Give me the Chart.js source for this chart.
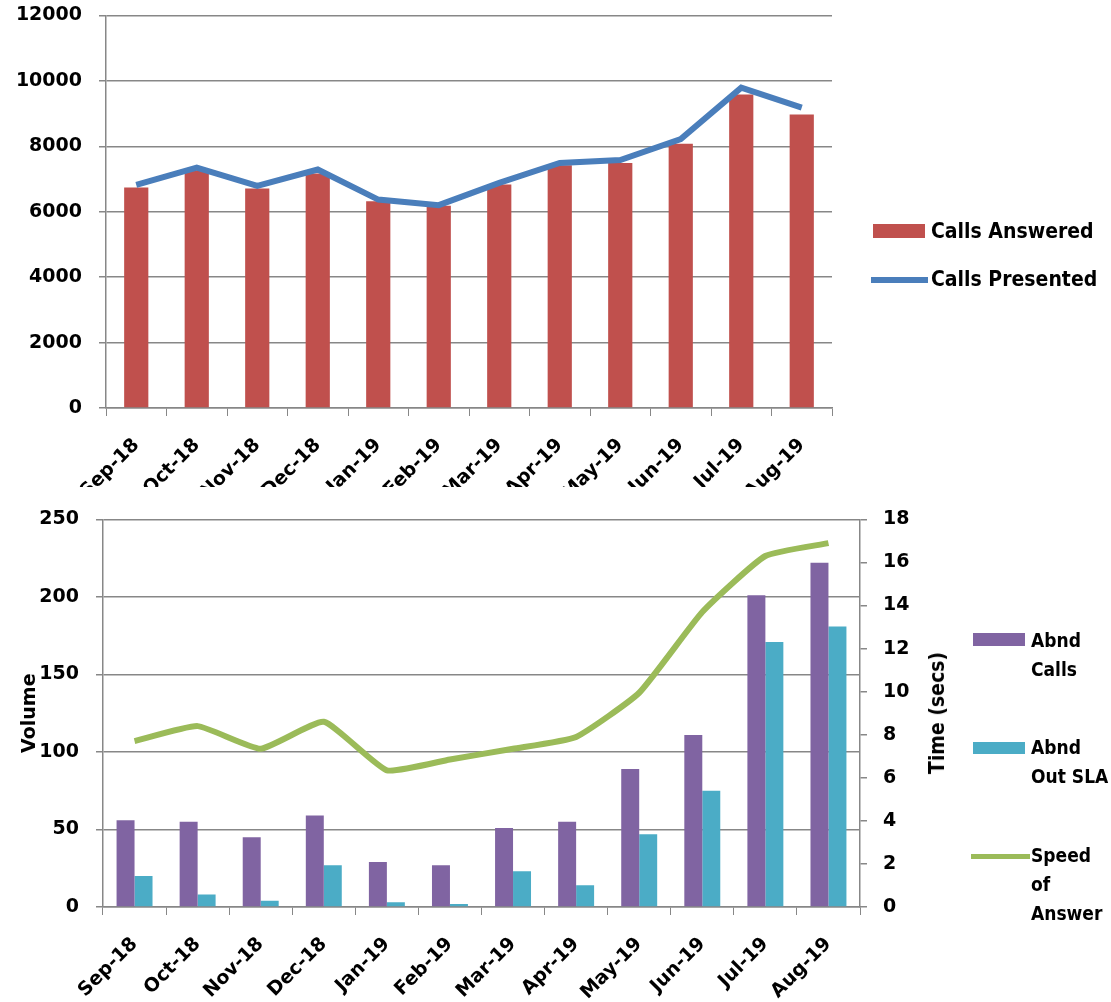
<!DOCTYPE html>
<html>
<head>
<meta charset="utf-8">
<script src="https://cdn.jsdelivr.net/npm/chart.js@4.4.1/dist/chart.umd.min.js"></script>
<style>
  body { margin: 0; background: #fff; width: 1111px; height: 1002px; overflow: hidden; position: relative; }
  #topWrap { position: absolute; left: 0; top: 0; width: 1111px; height: 487px; overflow: hidden; }
  #top { position: absolute; left: 0; top: -13px; }
  #bottom { position: absolute; left: 0; top: 491px; }
  .lg { position: absolute; font: bold 21px 'DejaVu Sans Condensed', 'Liberation Sans', sans-serif; color: #000; line-height: 29px; white-space: nowrap; }
  .sm { font-size: 19px; }
  .sw { position: absolute; }
</style>
</head>
<body>
<div id="topWrap"><canvas id="top" width="1111" height="500"></canvas></div>
<canvas id="bottom" width="1111" height="511"></canvas>

<!-- top legend -->
<div class="sw" style="left:873px;top:224px;width:52px;height:14px;background:#C0504D"></div>
<div class="lg" style="left:931px;top:217px">Calls Answered</div>
<div class="sw" style="left:871px;top:277px;width:57px;height:6px;background:#4A7EBB"></div>
<div class="lg" style="left:931px;top:265px">Calls Presented</div>

<!-- bottom legend -->
<div class="sw" style="left:973px;top:633px;width:52px;height:13px;background:#8064A2"></div>
<div class="lg sm" style="left:1031px;top:626px">Abnd<br>Calls</div>
<div class="sw" style="left:973px;top:742px;width:52px;height:12px;background:#4BACC6"></div>
<div class="lg sm" style="left:1031px;top:733px">Abnd<br>Out SLA</div>
<div class="sw" style="left:971px;top:854px;width:59px;height:5px;background:#9BBB59"></div>
<div class="lg sm" style="left:1031px;top:841px">Speed<br>of<br>Answer</div>

<div class="lg" style="left:937px;top:713px;transform:translate(-50%,-50%) rotate(-90deg);line-height:22px">Time (secs)</div>

<script>
var months = ['Sep-18', 'Oct-18', 'Nov-18', 'Dec-18', 'Jan-19', 'Feb-19', 'Mar-19', 'Apr-19', 'May-19', 'Jun-19', 'Jul-19', 'Aug-19'];

var callsAnswered = [6740, 7270, 6710, 7170, 6320, 6180, 6830, 7420, 7490, 8080, 9580, 8970];
var callsPresented = [6820, 7350, 6790, 7290, 6370, 6200, 6880, 7490, 7580, 8220, 9790, 9180];

var abndCalls = [56, 55, 45, 59, 29, 27, 51, 55, 89, 111, 201, 222];
var abndOutSla = [20, 8, 4, 27, 3, 2, 23, 14, 47, 75, 171, 181];
var speedOfAnswer = [7.7, 8.4, 7.35, 8.6, 6.35, 6.85, 7.35, 7.9, 9.95, 13.7, 16.3, 16.9];

var gridGray = '#878787';
var tickFont = { family: "'DejaVu Sans', sans-serif", size: 19, weight: 'bold' };

Chart.defaults.color = '#000';
Chart.defaults.animation = false;

// plain numbers, no thousands separator
var plain = function(v) { return String(v); };

var xAxis = function(h) {
    return {
        offset: true,
        grid: { drawOnChartArea: false, drawTicks: true, tickLength: 8, color: gridGray, tickColor: gridGray, offset: true },
        border: { color: gridGray, width: 1.5 },
        ticks: { font: tickFont, color: '#000', minRotation: 45, maxRotation: 45, autoSkip: false, padding: 18 },
        afterFit: function(scale) { scale.height = h; }
    };
};

new Chart(document.getElementById('top').getContext('2d'), {
    type: 'bar',
    data: {
        labels: months,
        datasets: [
            {
                type: 'line',
                label: 'Calls Presented',
                data: callsPresented,
                borderColor: '#4A7EBB',
                borderWidth: 6,
                pointRadius: 0,
                tension: 0,
                order: 0
            },
            {
                label: 'Calls Answered',
                data: callsAnswered,
                backgroundColor: '#C0504D',
                barPercentage: 0.4,
                categoryPercentage: 1,
                order: 1
            }
        ]
    },
    options: {
        responsive: false,
        layout: { padding: { left: 0, top: 0, right: 279, bottom: 0 } },
        plugins: { legend: { display: false }, tooltip: { enabled: false } },
        scales: {
            x: xAxis(79),
            y: {
                min: 0, max: 12000,
                ticks: { stepSize: 2000, font: tickFont, color: '#000', padding: 17, callback: plain },
                grid: { color: gridGray, tickColor: gridGray, tickLength: 7, lineWidth: 1.5 },
                border: { color: gridGray, width: 1.5 },
                afterFit: function(scale) { scale.width = 106; }
            }
        }
    }
});

new Chart(document.getElementById('bottom').getContext('2d'), {
    type: 'bar',
    data: {
        labels: months,
        datasets: [
            {
                type: 'line',
                label: 'Speed of Answer',
                data: speedOfAnswer,
                yAxisID: 'y1',
                borderColor: '#9BBB59',
                borderWidth: 6,
                pointRadius: 0,
                tension: 0.15,
                order: 0
            },
            {
                label: 'Abnd Calls',
                data: abndCalls,
                backgroundColor: '#8064A2',
                barPercentage: 1,
                categoryPercentage: 0.57,
                order: 1
            },
            {
                label: 'Abnd Out SLA',
                data: abndOutSla,
                backgroundColor: '#4BACC6',
                barPercentage: 1,
                categoryPercentage: 0.57,
                order: 1
            }
        ]
    },
    options: {
        responsive: false,
        layout: { padding: { left: 0, top: 0, right: 191, bottom: 0 } },
        plugins: { legend: { display: false }, tooltip: { enabled: false } },
        scales: {
            x: xAxis(95),
            y: {
                position: 'left',
                min: 0, max: 250,
                ticks: { stepSize: 50, font: tickFont, color: '#000', padding: 17 },
                grid: { color: gridGray, tickColor: gridGray, tickLength: 7, lineWidth: 1.5 },
                border: { color: gridGray, width: 1.5 },
                title: { display: true, text: 'Volume', color: '#000', font: tickFont, padding: { top: 19, bottom: 0 } },
                afterFit: function(scale) { scale.width = 103; }
            },
            y1: {
                position: 'right',
                min: 0, max: 18,
                ticks: { stepSize: 2, font: tickFont, color: '#000', padding: 16 },
                grid: { drawOnChartArea: false, tickColor: gridGray, tickLength: 7, lineWidth: 1.5 },
                border: { color: gridGray, width: 1.5 },
                afterFit: function(scale) { scale.width = 60; }
            }
        }
    }
});
</script>
</body>
</html>
